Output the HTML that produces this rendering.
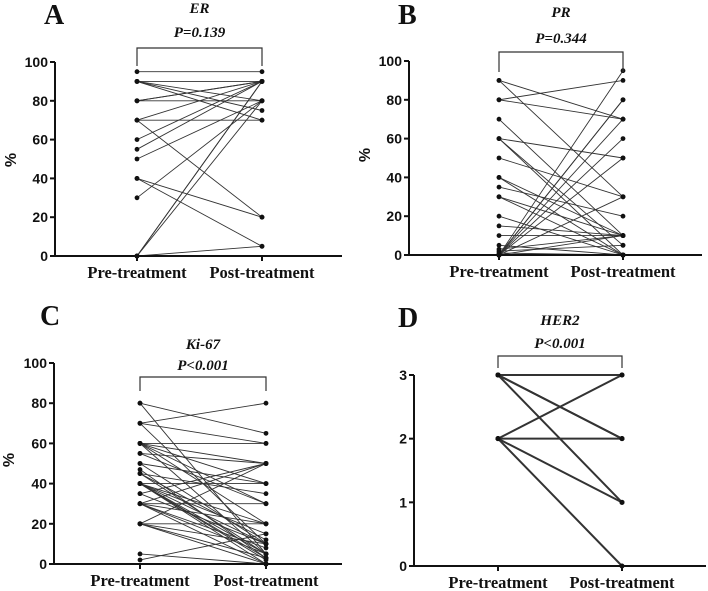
<!DOCTYPE html>
<html><head><meta charset="utf-8"><style>
html,body{margin:0;padding:0;background:#fff;width:708px;height:591px;overflow:hidden}
svg{display:block}
.tick{font:bold 14px "Liberation Sans",sans-serif;fill:#111}
.xl{font:bold 16.5px "Liberation Serif",serif;fill:#111}
.ttl{font:bold italic 15px "Liberation Serif",serif;fill:#111}
.let{font:bold 28px "Liberation Serif",serif;fill:#111}
.yl{font:bold 16px "Liberation Sans",sans-serif;fill:#111}
</style></head><body>
<svg id="fig" width="708" height="591"></svg>
<script>
// ER
const erPre  = [95,90,90,90,90,80,80,80,70,70,70,60,55,50,40,40,30,0,0,0,0];
const erPost = [95,90,80,70,75,90,80,90,90,70,20,90,90,80,20,5,80,90,90,5,80];
// PR
const prPre  = [90,90,80,80,70,60,60,60,50,40,40,35,30,30,20,15,10,5,3,2,1,0,0,0,0,0,0,0,0,0];
const prPost = [70,30,90,70,10,50,5,0,30,10,0,20,10,0,0,10,10,0,10,5,0,95,80,80,70,60,50,30,10,0];
// Ki-67
const kiPre  = [80,80,70,70,70,60,60,60,60,60,55,55,50,50,47,45,45,40,40,40,40,40,40,40,35,35,30,30,30,30,30,20,20,20,20,5,2,60,45,40,30,20];
const kiPost = [65,5,80,60,10,60,50,40,20,5,50,30,40,10,3,35,5,40,20,15,10,5,2,0,50,10,50,30,20,5,0,50,20,10,0,0,15,30,12,3,8,3];
// HER2
const hPre  = [3,3,3,3,2,2,2,2];
const hPost = [3,2,2,1,3,2,1,0];

const yTicksPct = [0,20,40,60,80,100];
const yTicksHer = [0,1,2,3];
const xCats = ["Pre-treatment","Post-treatment"];

const svg = document.getElementById('fig');
const NS = 'http://www.w3.org/2000/svg';
function mk(tag, attrs, parent){const e=document.createElementNS(NS,tag);for(const k in attrs)e.setAttribute(k,attrs[k]);(parent||svg).appendChild(e);return e;}

const panels = [
 {key:'a',letter:'A',title:'ER',p:'P=0.139',pre:erPre,post:erPost,ticks:yTicksPct,max:100,ax:55,axEnd:342,y0:256,yTop:62,xPre:137,xPost:262,letX:44,letY:24,titleY:13,pY:37,brY:48,brB:66,ylab:true,ylabX:16,ylabY:160},
 {key:'b',letter:'B',title:'PR',p:'P=0.344',pre:prPre,post:prPost,ticks:yTicksPct,max:100,ax:409,axEnd:702,y0:255,yTop:61,xPre:499,xPost:623,letX:398,letY:24,titleY:17,pY:43,brY:52,brB:72,ylab:true,ylabX:370,ylabY:155},
 {key:'c',letter:'C',title:'Ki-67',p:'P<0.001',pre:kiPre,post:kiPost,ticks:yTicksPct,max:100,ax:54,axEnd:342,y0:564,yTop:363,xPre:140,xPost:266,letX:40,letY:325,titleY:349,pY:370,brY:377,brB:391,ylab:true,ylabX:14,ylabY:460},
 {key:'d',letter:'D',title:'HER2',p:'P<0.001',pre:hPre,post:hPost,ticks:yTicksHer,max:3,ax:414,axEnd:706,y0:566,yTop:375,xPre:498,xPost:622,letX:398,letY:327,titleY:325,pY:348,brY:356,brB:368,ylab:false}
];

panels.forEach(P=>{
  const g = mk('g',{});
  
  
  const ys = v => P.y0 - (v/P.max)*(P.y0-P.yTop);
  const xs = i => i===0 ? P.xPre : P.xPost;
  P.pre.forEach((v,i)=>{
    const l = mk('line',{x1:xs(0),y1:ys(v),x2:xs(1),y2:ys(P.post[i]),stroke:'#333','stroke-width':P.key==='d'?2:0.9},g);
    
    
  });
  [P.pre,P.post].forEach((arr,k)=>arr.forEach(v=>{
    const c = mk('circle',{cx:xs(k),cy:ys(v),r:P.key==='d'?2.5:2.4,fill:'#111'},g);
    
    
  }));
  const ya = mk('line',{x1:P.ax,y1:P.yTop,x2:P.ax,y2:P.y0+1,stroke:'#111','stroke-width':2},g);
  
  
  const xa = mk('line',{x1:P.ax-1,y1:P.y0,x2:P.axEnd,y2:P.y0,stroke:'#111','stroke-width':2},g);
  
  
  P.ticks.forEach(t=>{
    mk('line',{x1:P.ax-5,y1:ys(t),x2:P.ax,y2:ys(t),stroke:'#111','stroke-width':2},g);
    const tx = mk('text',{x:P.ax-7,y:ys(t)+5,'text-anchor':'end',class:'tick'},g);
    tx.textContent=t;
    
    
  });
  xCats.forEach((c,k)=>{
    mk('line',{x1:xs(k),y1:P.y0,x2:xs(k),y2:P.y0+5,stroke:'#111','stroke-width':2},g);
    const tx = mk('text',{x:xs(k),y:P.y0+22,'text-anchor':'middle',class:'xl'},g);
    tx.textContent=c;
    
    
  });
  const br = mk('path',{d:`M${P.xPre},${P.brB} V${P.brY} H${P.xPost} V${P.brB}`,fill:'none',stroke:'#333','stroke-width':1.2},g);
  
  
  const cx=(P.xPre+P.xPost)/2;
  const t1 = mk('text',{x:cx,y:P.titleY,'text-anchor':'middle',class:'ttl'},g);
  t1.textContent=P.title;
  
  
  const t2 = mk('text',{x:cx,y:P.pY,'text-anchor':'middle',class:'ttl'},g);
  t2.textContent=P.p;
  
  
  const lt = mk('text',{x:P.letX,y:P.letY,class:'let'},g);
  lt.textContent=P.letter;
  
  
  if(P.ylab){
    const yl = mk('text',{x:P.ylabX,y:P.ylabY,class:'yl','text-anchor':'middle',transform:`rotate(-90 ${P.ylabX} ${P.ylabY})`},g);
    yl.textContent='%';
    
    
  }
});
</script>
</body></html>
